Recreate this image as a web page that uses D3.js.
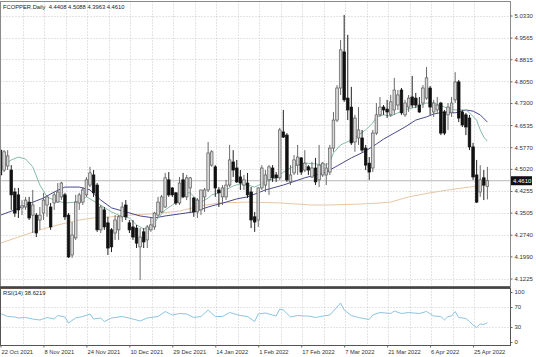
<!DOCTYPE html>
<html><head><meta charset="utf-8">
<script src="https://cdn.jsdelivr.net/npm/d3@7"></script>
<style>html,body{margin:0;padding:0;background:#fff;} svg{display:block;font-family:"Liberation Sans",Arial,sans-serif;}</style>
</head><body><svg id="c" width="536" height="357"></svg>
<script>
// ---------- data ----------
const symbolTitle = "FCOPPER,Daily  4.4408 4.5088 4.3963 4.4610";
const lastPrice = 4.4610;
const rsiTitle = "RSI(14) 38.6219";

const openP = [4.567,4.498,4.512,4.498,4.422,4.412,4.367,4.370,4.387,4.342,
4.342,4.325,4.349,4.377,4.370,4.384,4.387,4.405,4.412,4.342,
4.204,4.263,4.384,4.387,4.412,4.446,4.481,4.446,4.291,4.360,
4.315,4.291,4.280,4.291,4.336,4.377,4.315,4.301,4.297,4.232,
4.284,4.256,4.291,4.301,4.342,4.353,4.370,4.464,4.436,4.419,
4.384,4.464,4.405,4.436,4.401,4.353,4.360,4.405,4.429,4.515,
4.509,4.429,4.405,4.405,4.446,4.526,4.505,4.474,4.446,4.453,
4.422,4.336,4.325,4.436,4.446,4.464,4.505,4.481,4.471,4.630,
4.619,4.457,4.488,4.515,4.540,4.498,4.509,4.474,4.505,4.464,
4.481,4.481,4.491,4.574,4.671,4.782,4.907,4.747,4.716,4.595,
4.609,4.609,4.574,4.522,4.505,4.626,4.689,4.716,4.709,4.689,
4.706,4.723,4.775,4.689,4.716,4.751,4.747,4.723,4.730,4.747,
4.782,4.699,4.706,4.730,4.699,4.689,4.696,4.741,4.803,4.699,
4.689,4.678,4.578,4.481,4.422,4.471,4.4408];
const highP = [4.612,4.567,4.567,4.515,4.436,4.436,4.394,4.405,4.405,4.429,
4.349,4.370,4.419,4.412,4.384,4.422,4.453,4.457,4.419,4.349,
4.318,4.412,4.419,4.439,4.474,4.509,4.498,4.453,4.377,4.370,
4.336,4.297,4.342,4.342,4.387,4.394,4.325,4.325,4.308,4.297,
4.297,4.308,4.332,4.353,4.405,4.412,4.488,4.491,4.439,4.422,
4.474,4.488,4.481,4.474,4.405,4.401,4.429,4.436,4.595,4.567,
4.515,4.439,4.446,4.464,4.585,4.567,4.533,4.498,4.481,4.488,
4.439,4.353,4.439,4.515,4.498,4.515,4.515,4.491,4.644,4.706,
4.626,4.515,4.550,4.585,4.543,4.567,4.515,4.526,4.540,4.585,
4.526,4.522,4.585,4.699,4.792,4.948,5.035,4.966,4.786,4.689,
4.716,4.637,4.585,4.543,4.637,4.730,4.751,4.723,4.741,4.758,
4.817,4.775,4.782,4.741,4.758,4.824,4.765,4.751,4.792,4.855,
4.789,4.741,4.751,4.734,4.706,4.730,4.751,4.837,4.810,4.706,
4.696,4.689,4.592,4.533,4.515,4.498,4.5088];
const lowP = [4.457,4.491,4.498,4.360,4.336,4.332,4.342,4.360,4.325,4.280,
4.266,4.291,4.325,4.336,4.291,4.360,4.384,4.394,4.325,4.194,
4.194,4.256,4.360,4.377,4.405,4.439,4.405,4.284,4.280,4.291,
4.204,4.214,4.256,4.256,4.318,4.325,4.280,4.256,4.228,4.117,
4.228,4.228,4.284,4.291,4.336,4.349,4.367,4.405,4.405,4.377,
4.377,4.401,4.394,4.349,4.336,4.332,4.342,4.353,4.422,4.509,
4.405,4.370,4.377,4.394,4.439,4.474,4.453,4.429,4.429,4.401,
4.297,4.284,4.301,4.429,4.422,4.412,4.457,4.457,4.464,4.609,
4.457,4.446,4.481,4.481,4.481,4.491,4.481,4.471,4.446,4.439,
4.474,4.446,4.481,4.561,4.664,4.758,4.734,4.671,4.585,4.561,
4.585,4.561,4.498,4.464,4.491,4.619,4.682,4.689,4.678,4.682,
4.689,4.706,4.689,4.682,4.699,4.713,4.713,4.696,4.713,4.741,
4.689,4.682,4.696,4.619,4.619,4.637,4.682,4.730,4.664,4.647,
4.619,4.567,4.464,4.384,4.405,4.394,4.3963];
const closeP = [4.481,4.561,4.547,4.412,4.349,4.360,4.374,4.394,4.332,4.377,
4.280,4.342,4.394,4.405,4.301,4.412,4.422,4.453,4.336,4.197,
4.273,4.387,4.412,4.429,4.464,4.488,4.419,4.291,4.370,4.301,
4.228,4.232,4.325,4.336,4.370,4.336,4.291,4.266,4.245,4.266,
4.249,4.301,4.308,4.349,4.387,4.405,4.471,4.412,4.412,4.384,
4.453,4.405,4.471,4.471,4.353,4.394,4.429,4.429,4.557,4.561,
4.436,4.419,4.436,4.446,4.533,4.498,4.457,4.453,4.464,4.412,
4.325,4.318,4.436,4.505,4.481,4.509,4.471,4.471,4.637,4.612,
4.464,4.481,4.533,4.543,4.491,4.522,4.498,4.505,4.457,4.515,
4.522,4.505,4.574,4.671,4.782,4.914,4.741,4.706,4.592,4.678,
4.637,4.567,4.515,4.491,4.626,4.689,4.716,4.706,4.699,4.734,
4.775,4.758,4.696,4.730,4.747,4.723,4.723,4.699,4.782,4.817,
4.716,4.730,4.723,4.626,4.626,4.716,4.730,4.803,4.678,4.654,
4.647,4.578,4.474,4.387,4.464,4.446,4.4610];

// moving averages (bar index, price)
const maFastIdx = [0,3,5,7,9,11,13,15,18,21,24,27,31,33,36,38,40,42,44,46,48,50,52,53,55,56,58,59,61,63,65,67,69,71,74,77,79,82,85,88,91,92,93,95,98,100,102,104,105,107,109,111,113,116,119,121,124,127,130,131,133,134,135,136];
const maFastVal = [4.505,4.533,4.543,4.536,4.509,4.446,4.405,4.394,4.384,4.387,4.405,4.384,4.353,4.342,4.332,4.308,4.294,4.301,4.332,4.360,4.377,4.394,4.419,4.419,4.394,4.387,4.401,4.412,4.419,4.429,4.443,4.450,4.446,4.439,4.457,4.471,4.491,4.512,4.522,4.519,4.515,4.526,4.557,4.585,4.602,4.619,4.637,4.661,4.682,4.689,4.685,4.696,4.706,4.716,4.730,4.730,4.716,4.706,4.706,4.696,4.671,4.637,4.612,4.598];
const maMidIdx = [0,4,7,12,15,18,22,25,28,31,35,39,43,46,50,54,58,60,63,66,69,74,79,85,91,94,98,102,105,107,110,113,116,119,121,124,127,130,132,134,136];
const maMidVal = [4.342,4.360,4.377,4.401,4.422,4.439,4.439,4.429,4.394,4.367,4.353,4.339,4.332,4.339,4.346,4.353,4.370,4.377,4.387,4.398,4.405,4.429,4.446,4.471,4.491,4.512,4.540,4.564,4.588,4.605,4.626,4.647,4.671,4.682,4.692,4.699,4.696,4.706,4.702,4.689,4.664];
const maSlowIdx = [0,5,11,17,22,26,31,36,42,50,56,61,69,78,87,92,100,106,109,114,120,125,131,136];
const maSlowVal = [4.245,4.266,4.291,4.311,4.325,4.332,4.336,4.342,4.346,4.356,4.374,4.384,4.387,4.384,4.377,4.377,4.380,4.384,4.387,4.405,4.419,4.429,4.439,4.446];

const rsiIdx = [0,2,4,5,7,9,11,13,15,16,18,19,21,23,25,26,28,29,31,34,37,39,41,44,46,48,50,52,54,56,58,60,62,64,67,69,71,72,74,76,77,78,79,81,83,85,86,88,90,92,93,95,96,98,100,103,104,106,109,110,112,114,117,119,121,123,124,125,126,127,128,129,130,131,132,133,134,135,136];
const rsiVal = [57,51,50,48,49,46,44,49,46,53,50,38,48,51,56,46,48,41,48,51,46,42,48,51,61,54,57,56,49,51,64,51,51,59,53,51,41,56,58,54,52,66,64,50,53,52,52,49,52,54,62,78,64,53,49,45,54,59,57,62,57,59,57,61,52,51,44,51,52,61,49,48,47,41,34,29,36,35,38.6219];

const priceTicks = [5.0330,4.9565,4.8815,4.8050,4.7300,4.6535,4.5770,4.5020,4.4255,4.3505,4.2740,4.1990,4.1225];
const rsiTicks = [100,70,30,0];
const rsiLevels = [70,30];
const dateIdx = [0,12,24,36,48,60,72,84,96,108,120,132];
const dateLabels = ["22 Oct 2021","8 Nov 2021","24 Nov 2021","10 Dec 2021","29 Dec 2021","14 Jan 2022","1 Feb 2022","17 Feb 2022","7 Mar 2022","21 Mar 2022","6 Apr 2022","25 Apr 2022"];

// ---------- layout ----------
const L = 0.5, R = 510.5, mTop = 1.5, mBot = 286.5, rTop = 288.5, rBot = 345.5;
const svg = d3.select("#c");
svg.append("rect").attr("width",536).attr("height",357).attr("fill","#fff");

const x = d3.scaleLinear().domain([0, openP.length - 1]).range([0.5, 0.5 + 3.58 * (openP.length - 1)]);
const y = d3.scaleLinear().domain([4.1225, 5.0330]).range([278.5, 15.5]);
const yr = d3.scaleLinear().domain([0, 100]).range([342, 292]);

const defs = svg.append("defs");
defs.append("clipPath").attr("id","cm").append("rect").attr("x",L).attr("y",mTop).attr("width",R-L).attr("height",mBot-mTop);
defs.append("clipPath").attr("id","cr").append("rect").attr("x",L).attr("y",rTop).attr("width",R-L).attr("height",rBot-rTop);

const gridColor = "#c8c8c8";
const gridIdx = d3.range(6, openP.length, 6);

// main grid
const gm = svg.append("g").attr("clip-path","url(#cm)");
gm.selectAll(".vg").data(gridIdx).join("line")
  .attr("x1", d => Math.round(x(d)) + 1.5).attr("x2", d => Math.round(x(d)) + 1.5)
  .attr("y1", mTop).attr("y2", mBot)
  .attr("stroke", gridColor).attr("stroke-dasharray","1,2");
gm.selectAll(".hg").data(priceTicks).join("line")
  .attr("x1", L).attr("x2", R)
  .attr("y1", d => Math.round(y(d)) + 0.5).attr("y2", d => Math.round(y(d)) + 0.5)
  .attr("stroke", gridColor).attr("stroke-dasharray","1,2");

// rsi grid
const gr = svg.append("g").attr("clip-path","url(#cr)");
gr.selectAll(".vg").data(gridIdx).join("line")
  .attr("x1", d => Math.round(x(d)) + 1.5).attr("x2", d => Math.round(x(d)) + 1.5)
  .attr("y1", rTop).attr("y2", rBot)
  .attr("stroke", gridColor).attr("stroke-dasharray","1,2");
gr.selectAll(".hg").data(rsiLevels).join("line")
  .attr("x1", L).attr("x2", R)
  .attr("y1", d => Math.round(yr(d)) + 0.5).attr("y2", d => Math.round(yr(d)) + 0.5)
  .attr("stroke", gridColor).attr("stroke-dasharray","1,2");

// last price line
gm.append("line").attr("x1", L).attr("x2", R)
  .attr("y1", y(lastPrice)).attr("y2", y(lastPrice))
  .attr("stroke", "#b8b8b8").attr("stroke-width", 1);

// moving averages
const mkLine = (idx, val) => d3.line().x((d,i) => x(idx[i])).y(d => y(d))(val);
gm.append("path").attr("d", mkLine(maSlowIdx, maSlowVal)).attr("fill","none").attr("stroke","#e8c6a4").attr("stroke-width",1);
gm.append("path").attr("d", mkLine(maMidIdx, maMidVal)).attr("fill","none").attr("stroke","#4a4a8e").attr("stroke-width",1);
gm.append("path").attr("d", mkLine(maFastIdx, maFastVal)).attr("fill","none").attr("stroke","#86bca6").attr("stroke-width",1);

// candles
const bars = openP.map((o,i) => ({i, o, h: highP[i], l: lowP[i], c: closeP[i]}));
const cg = gm.append("g");
cg.selectAll(".wick").data(bars).join("line")
  .attr("x1", d => x(d.i)).attr("x2", d => x(d.i))
  .attr("y1", d => y(d.h)).attr("y2", d => y(d.l))
  .attr("stroke", d => d.c >= d.o ? "#6a6a6a" : "#222").attr("stroke-width", 1);
const bw = 2.6;
cg.selectAll(".body").data(bars).join("rect")
  .attr("x", d => x(d.i) - bw/2).attr("width", bw)
  .attr("y", d => y(Math.max(d.o, d.c)))
  .attr("height", d => Math.max(0.8, Math.abs(y(d.o) - y(d.c))))
  .attr("fill", d => d.c >= d.o ? "#d6d6d6" : "#111")
  .attr("stroke", d => d.c >= d.o ? "#5a5a5a" : "#111").attr("stroke-width", 0.7);

// rsi line
gr.append("path").attr("d", d3.line().x((d,i) => x(rsiIdx[i])).y(d => yr(d))(rsiVal))
  .attr("fill","none").attr("stroke","#8cc4e0").attr("stroke-width",1);

// frames
svg.append("rect").attr("x",L).attr("y",mTop).attr("width",R-L).attr("height",mBot-mTop)
  .attr("fill","none").attr("stroke","#8a8a8a");
svg.append("line").attr("x1",0).attr("x2",R).attr("y1",287.5).attr("y2",287.5).attr("stroke","#444").attr("stroke-width",2);
svg.append("rect").attr("x",L).attr("y",rTop).attr("width",R-L).attr("height",rBot-rTop)
  .attr("fill","none").attr("stroke","#555");

// axes
const fs = "6px";
const ay = svg.append("g").attr("transform",`translate(${R},0)`)
  .call(d3.axisRight(y).tickValues(priceTicks).tickFormat(d3.format(".4f")).tickSize(2).tickPadding(2));
ay.select(".domain").remove();
ay.selectAll("text").attr("font-size", fs).attr("fill","#333").attr("font-family","Liberation Sans, Arial, sans-serif");
ay.selectAll("line").attr("stroke","#666");

const ar = svg.append("g").attr("transform",`translate(${R},0)`)
  .call(d3.axisRight(yr).tickValues(rsiTicks).tickSize(2).tickPadding(2));
ar.select(".domain").remove();
ar.selectAll("text").attr("font-size", fs).attr("fill","#333").attr("font-family","Liberation Sans, Arial, sans-serif");
ar.selectAll("line").attr("stroke","#666");

const ax = svg.append("g").attr("transform",`translate(0,${rBot})`)
  .call(d3.axisBottom(x).tickValues(dateIdx).tickFormat((d,i) => dateLabels[i]).tickSize(2).tickPadding(2));
ax.select(".domain").remove();
ax.selectAll("text").attr("font-size","5.8px").attr("fill","#333").attr("text-anchor","start").attr("dx","0.5")
  .attr("font-family","Liberation Sans, Arial, sans-serif");
ax.selectAll("line").attr("stroke","#666");

// last price label
const ly = y(lastPrice);
svg.append("rect").attr("x", 511).attr("y", ly - 4.5).attr("width", 21).attr("height", 9).attr("fill", "#111");
svg.append("text").attr("x", 513).attr("y", ly + 2.2).attr("font-size", fs).attr("fill", "#fff").text(d3.format(".4f")(lastPrice));

// titles
svg.append("text").attr("x", 3).attr("y", 8.5).attr("font-size","5.8px").attr("fill","#222").attr("xml:space","preserve").style("white-space","pre").text(symbolTitle);
svg.append("text").attr("x", 3).attr("y", 295).attr("font-size","5.8px").attr("fill","#222").text(rsiTitle);
</script></body></html>
